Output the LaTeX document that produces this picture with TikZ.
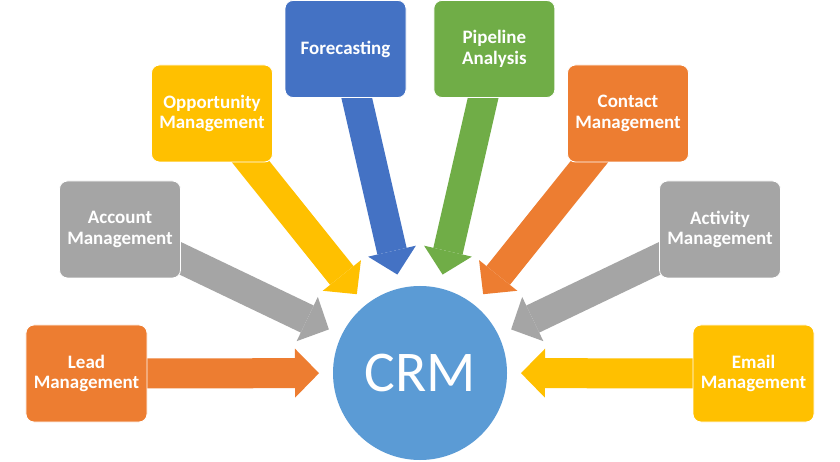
\documentclass[tikz,border=0pt]{standalone}
\usepackage{fontspec}
\setmainfont{Carlito}
\usetikzlibrary{arrows.meta, backgrounds, positioning}

\definecolor{crmblue}{HTML}{4472C4}
\definecolor{crmgreen}{HTML}{70AD47}
\definecolor{crmorange}{HTML}{ED7D31}
\definecolor{crmyellow}{HTML}{FFC000}
\definecolor{crmgray}{HTML}{A5A5A5}
\definecolor{crmcircle}{HTML}{5B9BD5}

\begin{document}
\begin{tikzpicture}[
  x=0.25mm, y=-0.25mm,
  font=\fontsize{13.5}{14.6}\selectfont\bfseries,
  module/.style={rectangle, draw=white, line width=0.6pt, rounded corners=2mm, minimum width=30.25mm, minimum height=24.25mm, inner sep=0pt, align=center, text=white},
  hub/.style={circle, fill=crmcircle, minimum size=43.5mm, outer sep=3.5mm, text=white, font=\fontsize{41}{41}\selectfont},
  arrow/.style={line width=7.5mm, -{Triangle[width=12.25mm, length=6mm, line width=0pt]}}
]
\useasboundingbox (0,0) rectangle (840,462);

% Nodes
\node[hub] (crm) at (420,373) {CRM};
\node[module, fill=crmblue] (forecast) at (345.5,49) {Forecasting};
\node[module, fill=crmgreen, right=6.75mm of forecast] (pipeline) {Pipeline\\Analysis};
\node[module, fill=crmyellow] (opportunity) at (212,113.5) {Opportunity\\Management};
\node[module, fill=crmorange] (contact) at (628,113.5) {Contact\\Management};
\node[module, fill=crmgray] (account) at (120,229.5) {Account\\Management};
\node[module, fill=crmgray] (activity) at (720,229.5) {Activity\\Management};
\node[module, fill=crmorange] (lead) at (86.5,373.5) {Lead\\Management};
\node[module, fill=crmyellow] (email) at (753.5,373.5) {Email\\Management};

% Arrows (behind the boxes)
\begin{scope}[on background layer]
  \fill[white] (0,0) rectangle (840,462);
  \draw[arrow, crmblue] (forecast.center) -- (crm);
  \draw[arrow, crmgreen] (pipeline.center) -- (crm);
  \draw[arrow, crmyellow] (opportunity.center) -- (crm);
  \draw[arrow, crmorange] (contact.center) -- (crm);
  \draw[arrow, crmgray] (account.center) -- (crm);
  \draw[arrow, crmgray] (activity.center) -- (crm);
  \draw[arrow, crmorange] (lead.center) -- (crm);
  \draw[arrow, crmyellow] (email.center) -- (crm);
\end{scope}

\end{tikzpicture}
\end{document}
